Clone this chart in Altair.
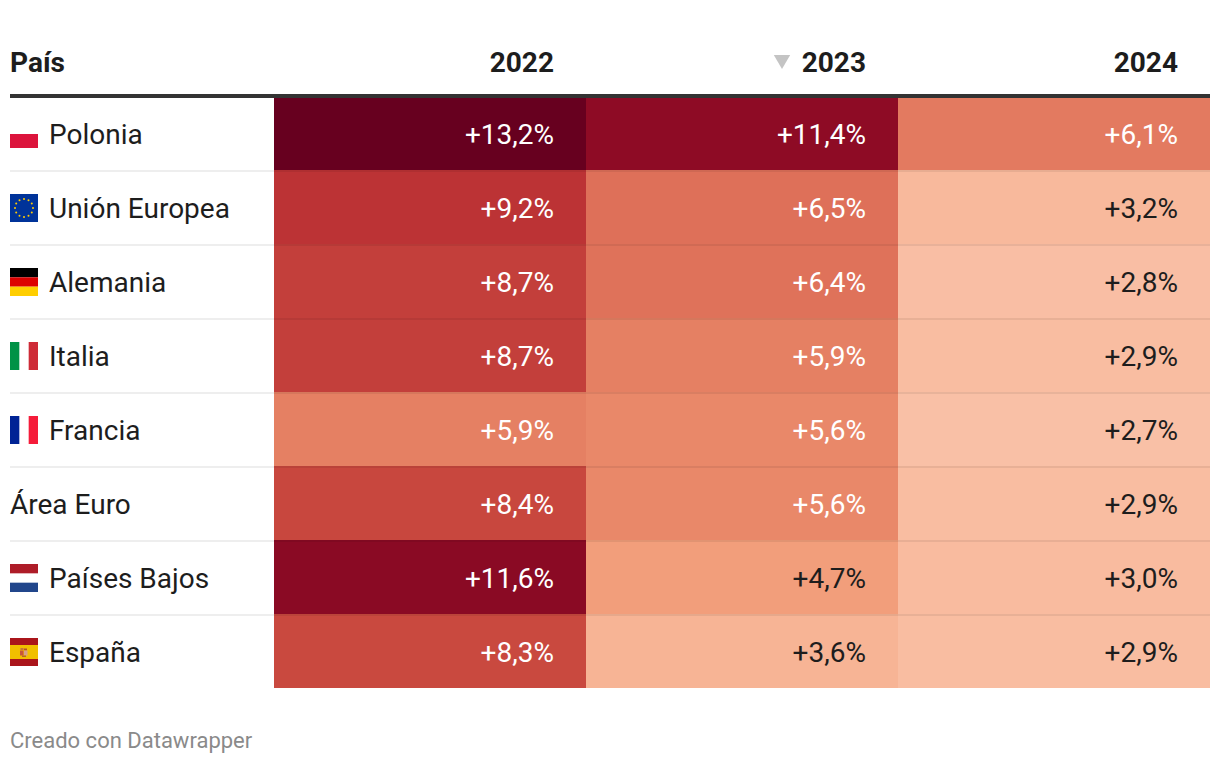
import base64, math
import altair as alt
import pandas as pd

countries = ["Polonia", "Unión Europea", "Alemania", "Italia", "Francia", "Área Euro", "Países Bajos", "España"]
years = ["2022", "2023", "2024"]
v2022 = [13.2, 9.2, 8.7, 8.7, 5.9, 8.4, 11.6, 8.3]
v2023 = [11.4, 6.5, 6.4, 5.9, 5.6, 5.6, 4.7, 3.6]
v2024 = [6.1, 3.2, 2.8, 2.9, 2.7, 2.9, 3.0, 2.9]
color_stops = [2.7, 3.0, 3.6, 4.7, 5.6, 6.4, 8.3, 9.2, 11.4, 13.2]
color_range = ["#f9c0a6", "#f9bb9f", "#f7b495", "#f29e7b", "#e98869", "#df725a",
               "#c9493f", "#bc3335", "#8e0b25", "#67001f"]

FONT = "Roboto"
INK = "#1d1d1d"


def svg_uri(body):
    svg = f'<svg xmlns="http://www.w3.org/2000/svg" width="28" height="28" viewBox="0 0 28 28">{body}</svg>'
    return "data:image/svg+xml;base64," + base64.b64encode(svg.encode()).decode()


def rects(*items):
    return "".join(
        f'<rect x="{x}" y="{y}" width="{w}" height="{h}" fill="{c}"/>' for x, y, w, h, c in items
    )


eu_stars = "".join(
    f'<circle cx="{14 + 9 * math.cos(i * math.pi / 6):.2f}" cy="{14 + 9 * math.sin(i * math.pi / 6):.2f}" r="1" fill="#ffcc00"/>'
    for i in range(12)
)
flags = {
    "Polonia": rects((0, 14, 28, 14, "#dc143c")),
    "Unión Europea": rects((0, 0, 28, 28, "#003399")) + eu_stars,
    "Alemania": rects((0, 0, 28, 9.33, "#000000"), (0, 9.33, 28, 9.34, "#dd0000"), (0, 18.67, 28, 9.33, "#ffce00")),
    "Italia": rects((0, 0, 9.33, 28, "#009246"), (18.67, 0, 9.33, 28, "#ce2b37")),
    "Francia": rects((0, 0, 9.33, 28, "#002395"), (18.67, 0, 9.33, 28, "#f51c3a")),
    "Países Bajos": rects((0, 0, 28, 9.33, "#ae1c28"), (0, 18.67, 28, 9.33, "#21468b")),
    "España": rects((0, 0, 28, 7, "#aa151b"), (0, 7, 28, 14, "#f1bf00"), (0, 21, 28, 7, "#aa151b"),
                    (10.5, 10, 3, 2, "#c8773a"), (14, 10.5, 3, 2, "#b5532a"),
                    (10, 12.5, 3.5, 5, "#c8553a"), (14, 12.5, 3.5, 5, "#d9a08a"),
                    (12, 17.5, 4, 1.5, "#b5632a")),
}

cells = pd.DataFrame(
    [
        {"pais": c, "year": y, "value": v, "label": f"+{v:.1f}%".replace(".", ",")}
        for y, vals in zip(years, [v2022, v2023, v2024])
        for c, v in zip(countries, vals)
    ]
)
rows = pd.DataFrame({"pais": countries})
flag_rows = pd.DataFrame({"pais": list(flags), "uri": [svg_uri(b) for b in flags.values()]})

x_scale = alt.Scale(domain=years, range=[266, 1202], paddingInner=0, paddingOuter=0)
y_scale = alt.Scale(domain=countries, range=[88, 680], paddingInner=0, paddingOuter=0)
X = alt.X("year:N", scale=x_scale, axis=None)
Y = alt.Y("pais:N", scale=y_scale, axis=None)
TEXT_Y_OFF = 3

heat = alt.Chart(cells).mark_rect(strokeWidth=0).encode(
    x=X, y=Y,
    color=alt.Color("value:Q", legend=None,
                    scale=alt.Scale(domain=color_stops, range=color_range, interpolate="rgb")),
)
values_light = alt.Chart(cells).transform_filter("datum.value >= 5").mark_text(
    align="right", baseline="middle", dx=-32, dy=TEXT_Y_OFF, font=FONT, fontSize=28, color="#ffffff"
).encode(x=alt.X("year:N", scale=x_scale, axis=None, bandPosition=1), y=Y, text="label:N")
values_dark = alt.Chart(cells).transform_filter("datum.value < 5").mark_text(
    align="right", baseline="middle", dx=-32, dy=TEXT_Y_OFF, font=FONT, fontSize=28, color=INK
).encode(x=alt.X("year:N", scale=x_scale, axis=None, bandPosition=1), y=Y, text="label:N")

row_rules = alt.Chart(rows[:-1]).mark_rule(color="#000000", opacity=0.067, strokeWidth=2, yOffset=1).encode(
    y=alt.Y("pais:N", scale=y_scale, axis=None, bandPosition=1),
    x=alt.value(2), x2=alt.value(1202),
)
header_rule = alt.Chart(pd.DataFrame({"a": [0]})).mark_rule(color="#333333", strokeWidth=4).encode(
    y=alt.value(88), x=alt.value(2), x2=alt.value(1202),
)
names_flag = alt.Chart(rows[rows.pais != "Área Euro"]).mark_text(
    align="left", baseline="middle", dy=TEXT_Y_OFF, font=FONT, fontSize=28, color=INK
).encode(x=alt.value(41), y=Y, text="pais:N")
names_plain = alt.Chart(rows[rows.pais == "Área Euro"]).mark_text(
    align="left", baseline="middle", dy=TEXT_Y_OFF, font=FONT, fontSize=28, color=INK
).encode(x=alt.value(2), y=Y, text="pais:N")
flag_marks = alt.Chart(flag_rows).mark_image(width=28, height=28, align="center", baseline="middle", yOffset=1).encode(
    x=alt.value(16), y=Y, url="uri:N"
)
hdr_years = alt.Chart(pd.DataFrame({"year": years})).mark_text(
    align="right", baseline="middle", dx=-32, font=FONT, fontSize=28, fontWeight="bold", color=INK
).encode(x=alt.X("year:N", scale=x_scale, axis=None, bandPosition=1), y=alt.value(56), text="year:N")
hdr_pais = alt.Chart(pd.DataFrame({"t": ["País"]})).mark_text(
    align="left", baseline="middle", font=FONT, fontSize=28, fontWeight="bold", color=INK
).encode(x=alt.value(2), y=alt.value(56), text="t:N")
triangle = alt.Chart(pd.DataFrame({"t": ["▼"]})).mark_point(
    shape="triangle-down", filled=True, size=270, color="#c4c4c4", opacity=1
).encode(x=alt.value(774), y=alt.value(54))
footer = alt.Chart(pd.DataFrame({"t": ["Creado con Datawrapper"]})).mark_text(
    align="left", baseline="middle", font=FONT, fontSize=22, color="#8a8a8a"
).encode(x=alt.value(2), y=alt.value(733), text="t:N")

chart = alt.layer(
    heat, row_rules, header_rule, values_light, values_dark, names_flag, names_plain,
    flag_marks, hdr_years, hdr_pais, triangle, footer,
).resolve_scale(color="independent").properties(
    width=1204, height=746, padding=0, autosize=alt.AutoSizeParams(type="none"),
).configure_view(stroke=None)

chart.save("out.html", embed_options={"renderer": "svg", "actions": False})
